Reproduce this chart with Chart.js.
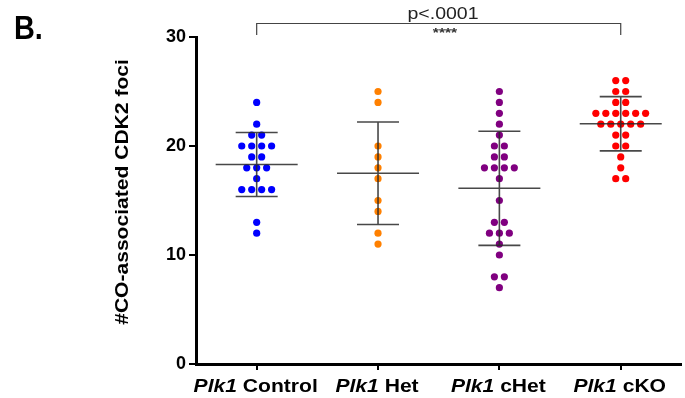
<!DOCTYPE html>
<html>
<head>
<meta charset="utf-8">
<script src="https://cdn.jsdelivr.net/npm/chart.js@4.4.0/dist/chart.umd.min.js"></script>
<style>
  html, body { margin: 0; padding: 0; background: #fff; }
  #wrap { width: 685px; height: 398px; position: relative; }
</style>
</head>
<body>
<div id="wrap"><canvas id="c" width="685" height="398"></canvas></div>
<script>
// ---- Data ----
const categories = ['Control', 'Het', 'cHet', 'cKO'];
const genePrefix = 'Plk1';
const controlValues = [24, 22, 21, 21, 20, 20, 20, 20, 19, 19, 18, 18, 18, 17, 16, 16, 16, 16, 13, 12];
const hetValues = [25, 24, 20, 19, 18, 17, 15, 14, 12, 11];
const cHetValues = [25, 24, 23, 22, 21, 20, 20, 19, 19, 18, 18, 18, 18, 17, 15, 13, 13, 12, 12, 12, 11, 10, 8, 8, 7];
const cKOValues = [26, 26, 25, 25, 24, 24, 23, 23, 23, 23, 23, 23, 22, 22, 22, 22, 22, 21, 21, 20, 20, 19, 18, 17, 17];
const yTicks = [0, 10, 20, 30];
const seriesColors = ['#0000ff', '#ff8000', '#800080', '#ff0000'];
const yTitle = '#CO-associated CDK2 foci';
const pText = 'p<.0001';
const starText = '****';

const allSeries = [controlValues, hetValues, cHetValues, cKOValues];

// beeswarm layout: spread equal values side by side (layout only)
const DOT_STEP = 0.082;
function swarm(values, idx) {
  const groups = {};
  values.forEach(v => { (groups[v] = groups[v] || []).push(v); });
  const pts = [];
  Object.keys(groups).forEach(k => {
    const g = groups[k];
    const n = g.length;
    g.forEach((v, i) => pts.push({ x: idx + (i - (n - 1) / 2) * DOT_STEP, y: v }));
  });
  return pts;
}

const datasets = allSeries.map((vals, i) => ({
  label: categories[i],
  data: swarm(vals, i),
  backgroundColor: seriesColors[i],
  borderWidth: 0,
  pointRadius: 3.6,
  pointHoverRadius: 3.6
}));

function meanSd(vals) {
  const m = vals.reduce((a, b) => a + b, 0) / vals.length;
  const v = vals.reduce((a, b) => a + (b - m) * (b - m), 0) / (vals.length - 1);
  return [m, Math.sqrt(v)];
}

function stretchedText(ctx, text, cx, y, sx) {
  ctx.save();
  ctx.translate(cx, y);
  ctx.scale(sx, 1);
  ctx.textAlign = 'center';
  ctx.fillText(text, 0, 0);
  ctx.restore();
}

const overlay = {
  id: 'overlay',
  afterDatasetsDraw(chart) {
    const ctx = chart.ctx;
    const xs = chart.scales.x, ys = chart.scales.y;
    ctx.save();
    allSeries.forEach((vals, i) => {
      const [m, sd] = meanSd(vals);
      const px = xs.getPixelForValue(i);
      const pm = ys.getPixelForValue(m);
      const pt = ys.getPixelForValue(m + sd);
      const pb = ys.getPixelForValue(m - sd);
      ctx.strokeStyle = 'rgba(40,40,40,0.85)';
      ctx.lineWidth = 1.6;
      ctx.beginPath();
      ctx.moveTo(px, pt); ctx.lineTo(px, pb);
      ctx.moveTo(px - 21, pt); ctx.lineTo(px + 21, pt);
      ctx.moveTo(px - 21, pb); ctx.lineTo(px + 21, pb);
      ctx.moveTo(px - 41, pm); ctx.lineTo(px + 41, pm);
      ctx.stroke();
    });
    ctx.restore();
  },
  afterDraw(chart) {
    const ctx = chart.ctx;
    const xs = chart.scales.x, ys = chart.scales.y;
    ctx.save();
    ctx.fillStyle = '#000';
    ctx.textBaseline = 'alphabetic';

    // panel letter
    ctx.font = 'bold 34px "Liberation Sans", Arial, sans-serif';
    ctx.save();
    ctx.translate(14, 39);
    ctx.scale(0.85, 1);
    ctx.textAlign = 'left';
    ctx.fillText('B.', 0, 0);
    ctx.restore();

    // y-axis title (stretched along its length)
    ctx.save();
    ctx.translate(128, 192);
    ctx.rotate(-Math.PI / 2);
    ctx.scale(1.17, 1);
    ctx.font = 'bold 18px "Liberation Sans", Arial, sans-serif';
    ctx.textAlign = 'center';
    ctx.fillText(yTitle, 0, 0);
    ctx.restore();

    // category labels: italic gene name + bold group name
    const boldIt = 'italic bold 19px "Liberation Sans", Arial, sans-serif';
    const bold = 'bold 19px "Liberation Sans", Arial, sans-serif';
    const sx = 1.11;
    categories.forEach((c, i) => {
      const px = xs.getPixelForValue(i);
      ctx.font = boldIt;
      const w1 = ctx.measureText(genePrefix + ' ').width;
      ctx.font = bold;
      const w2 = ctx.measureText(c).width;
      ctx.save();
      ctx.translate(px - 1, 392);
      ctx.scale(sx, 1);
      const x0 = -(w1 + w2) / 2;
      ctx.textAlign = 'left';
      ctx.font = boldIt;
      ctx.fillText(genePrefix + ' ', x0, 0);
      ctx.font = bold;
      ctx.fillText(c, x0 + w1, 0);
      ctx.restore();
    });

    // significance bracket
    const x1 = xs.getPixelForValue(0), x2 = xs.getPixelForValue(3);
    ctx.strokeStyle = '#444';
    ctx.lineWidth = 1.2;
    ctx.beginPath();
    ctx.moveTo(x1, 35); ctx.lineTo(x1, 23.5); ctx.lineTo(x2, 23.5); ctx.lineTo(x2, 35);
    ctx.stroke();
    ctx.fillStyle = '#222';
    ctx.font = '16px "Liberation Sans", Arial, sans-serif';
    stretchedText(ctx, pText, 443, 19, 1.22);
    ctx.fillStyle = '#333';
    ctx.font = 'bold 12px "Liberation Sans", Arial, sans-serif';
    stretchedText(ctx, starText, 445, 37, 1.3);
    ctx.restore();
  }
};

new Chart(document.getElementById('c'), {
  type: 'scatter',
  data: { datasets },
  plugins: [overlay],
  options: {
    responsive: false,
    animation: false,
    events: [],
    layout: { padding: { left: 0, top: 37, right: 0, bottom: 0 } },
    plugins: { legend: { display: false }, tooltip: { enabled: false } },
    scales: {
      x: {
        type: 'linear',
        min: -0.5,
        max: 3.5,
        afterBuildTicks(scale) { scale.ticks = [0, 1, 2, 3].map(v => ({ value: v })); },
        afterFit(scale) { scale.height = 34; },
        grid: { drawOnChartArea: false, drawTicks: true, tickLength: 6, color: '#000', lineWidth: 2 },
        border: { display: true, color: '#000', width: 3 },
        ticks: {
          color: 'rgba(0,0,0,0)',
          font: { size: 1 },
          callback: (v) => genePrefix + ' ' + categories[v]
        }
      },
      y: {
        min: 0,
        max: 30,
        afterBuildTicks(scale) { scale.ticks = yTicks.map(v => ({ value: v })); },
        afterFit(scale) { scale.width = 196; },
        grid: { drawOnChartArea: false, drawTicks: true, tickLength: 7, color: '#000', lineWidth: 2 },
        border: { display: true, color: '#000', width: 3 },
        ticks: {
          color: '#000',
          padding: 3,
          font: { family: '"Liberation Sans", Arial, sans-serif', size: 18, weight: 'bold' }
        }
      }
    }
  }
});
</script>
</body>
</html>
